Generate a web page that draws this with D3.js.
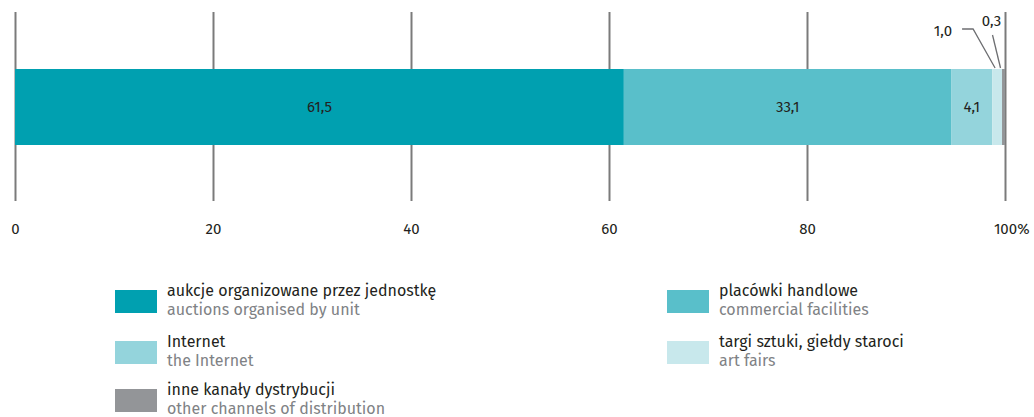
<!DOCTYPE html>
<html>
<head>
<meta charset="utf-8">
<script src="https://cdn.jsdelivr.net/npm/d3@7"></script>
<style>
  html, body { margin: 0; padding: 0; background: #fff; }
  svg { display: block; font-family: "Fira Sans", Lato, "Noto Sans", sans-serif; }
</style>
</head>
<body>
<svg id="chart" width="1034" height="417"></svg>
<script>
// Distribution channels (share in %)
const categoriesPl = ["aukcje organizowane przez jednostkę", "placówki handlowe", "Internet", "targi sztuki, giełdy staroci", "inne kanały dystrybucji"];
const categoriesEn = ["auctions organised by unit", "commercial facilities", "the Internet", "art fairs", "other channels of distribution"];
const values = [61.5, 33.1, 4.1, 1.0, 0.3];
const colors = ["#00a0b0", "#59bfca", "#94d4dc", "#c8e8ec", "#939598"];
const tickValues = [0, 20, 40, 60, 80, 100];

const svg = d3.select("#chart");
const fmt = v => v.toFixed(1).replace(".", ",");
const fontFamily = "\"Fira Sans\", Lato, \"Noto Sans\", sans-serif";
const numSize = "15px";

const x = d3.scaleLinear().domain([0, 100]).range([15, 1005]);
const barTop = 69, barH = 76;
const gridTop = 12, gridBottom = 201;

// gridlines + tick labels
const axis = d3.axisBottom(x)
  .tickValues(tickValues)
  .tickSize(-(gridBottom - gridTop))
  .tickPadding(22)
  .tickFormat(d => d);
const gAxis = svg.append("g")
  .attr("transform", `translate(0,${gridBottom})`)
  .call(axis);
gAxis.select(".domain").remove();
gAxis.selectAll(".tick line").attr("stroke", "#7b7b7b").attr("stroke-width", 2);
gAxis.selectAll(".tick text")
  .attr("fill", "#231f20")
  .style("font-size", numSize)
  .style("font-family", fontFamily);
// percent sign after the last tick value
gAxis.selectAll(".tick").filter(d => d === 100).each(function () {
  const t = d3.select(this).select("text");
  const w = t.node().getComputedTextLength();
  d3.select(this).append("text")
    .attr("x", w / 2)
    .attr("y", t.attr("y"))
    .attr("dy", t.attr("dy"))
    .attr("text-anchor", "start")
    .attr("fill", "#231f20")
    .style("font-size", numSize)
    .style("font-family", fontFamily)
    .text("%");
});

// stacked segments
let acc = 0;
const segs = values.map((v, i) => {
  const s = { i, v, x0: acc, x1: acc + v };
  acc += v;
  return s;
});

svg.append("g").selectAll("rect")
  .data(segs)
  .join("rect")
  .attr("x", d => x(d.x0))
  .attr("y", barTop)
  .attr("width", d => x(d.x1) - x(d.x0))
  .attr("height", barH)
  .attr("fill", d => colors[d.i]);

// values inside the wider segments
svg.append("g").selectAll("text")
  .data(segs.filter(d => d.v >= 3))
  .join("text")
  .attr("x", d => (x(d.x0) + x(d.x1)) / 2)
  .attr("y", barTop + barH / 2 + 5)
  .attr("text-anchor", "middle")
  .attr("fill", "#231f20")
  .style("font-size", numSize)
  .text(d => fmt(d.v));

// callouts for the narrow segments
const s3 = segs[3], s4 = segs[4];
const c3 = (x(s3.x0) + x(s3.x1)) / 2;
const c4 = (x(s4.x0) + x(s4.x1)) / 2;
const callouts = svg.append("g").attr("fill", "none").attr("stroke", "#6d6e71").attr("stroke-width", 1.3);
callouts.append("path").attr("d", `M${c3 - 35},29 L${c3 - 24},29 L${c3 - 2},${barTop - 1}`);
callouts.append("path").attr("d", `M${c4 - 11},35 L${c4 - 3},${barTop - 1}`);
svg.append("text")
  .attr("x", c3 - 45).attr("y", 36)
  .attr("text-anchor", "end")
  .attr("fill", "#231f20").style("font-size", numSize)
  .text(fmt(s3.v));
svg.append("text")
  .attr("x", c4 - 12).attr("y", 26)
  .attr("text-anchor", "middle")
  .attr("fill", "#231f20").style("font-size", numSize)
  .text(fmt(s4.v));

// legend
const legendPos = [
  { x: 115, y: 290 }, { x: 667, y: 290 },
  { x: 115, y: 341 }, { x: 667, y: 341 },
  { x: 115, y: 389 }
];
const legend = svg.append("g").selectAll("g")
  .data(categoriesPl.map((pl, i) => ({ pl, en: categoriesEn[i], i })))
  .join("g")
  .attr("transform", d => `translate(${legendPos[d.i].x},${legendPos[d.i].y})`);
legend.append("rect")
  .attr("width", 42).attr("height", 23)
  .attr("fill", d => colors[d.i]);
legend.append("text")
  .attr("x", 52).attr("y", 6)
  .attr("fill", "#231f20").style("font-size", "16px")
  .text(d => d.pl);
legend.append("text")
  .attr("x", 52).attr("y", 25)
  .attr("fill", "#808285").style("font-size", "16px")
  .text(d => d.en);
</script>
</body>
</html>
